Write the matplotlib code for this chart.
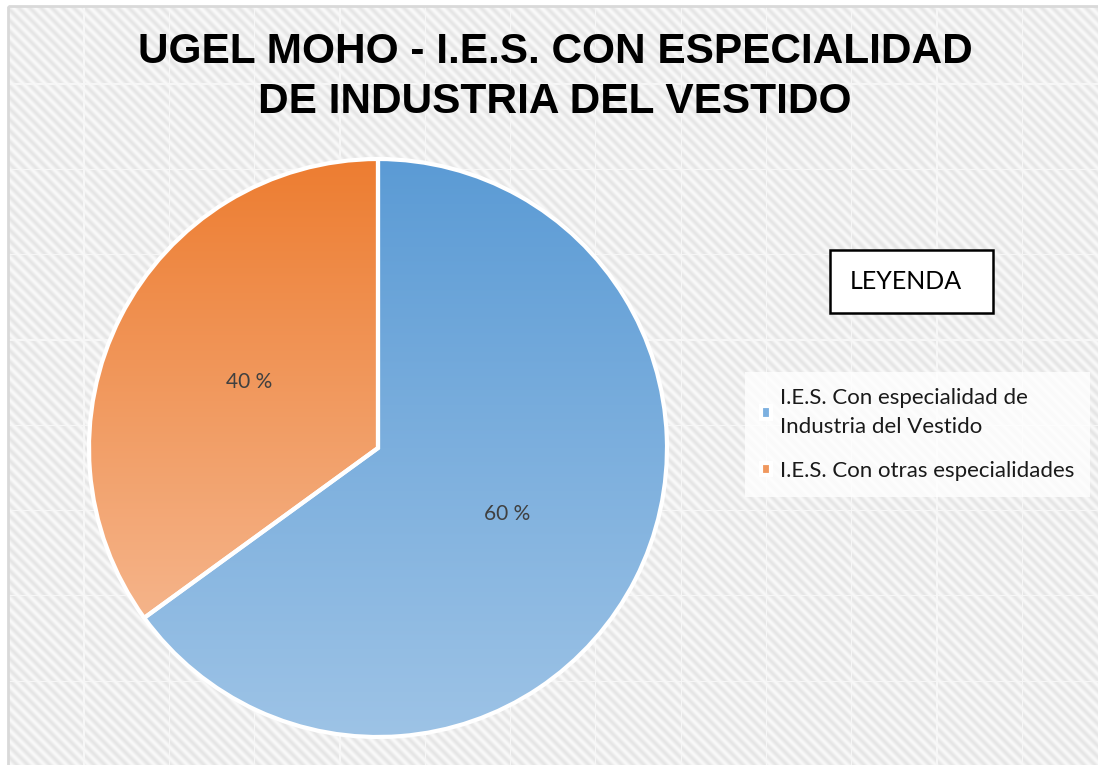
import matplotlib.pyplot as plt
import numpy as np
from matplotlib.colors import to_rgb
from matplotlib.patches import Rectangle

# data
categories = ['I.E.S. Con especialidad de\nIndustria del Vestido',
              'I.E.S. Con otras especialidades']
values = [65, 35]
pct_labels = ['60 %', '40 %']
title = 'UGEL MOHO - I.E.S. CON ESPECIALIDAD\nDE INDUSTRIA DEL VESTIDO'

top_colors = ['#5b9bd5', '#ed7d31']
bottom_colors = ['#9dc3e6', '#f5b48a']
mid_colors = ['#7cb0e0', '#f0985e']

W, H = 1098, 765
fig = plt.figure(figsize=(W / 100, H / 100), dpi=100)

# background: diagonal stripe texture inside a light frame
bg = fig.add_axes([0, 0, 1, 1])
yy, xx = np.mgrid[0:H, 0:W]
v = 0.5 + 0.5 * np.cos(2 * np.pi * (xx - yy) / 11.0)
tex = 0.975 - 0.075 * v
seam = (((xx - 83) % 85.3) < 1.2) | (((yy - 83) % 85.3) < 1.2)
tex[seam] = np.maximum(tex[seam], 0.965)
tex[(xx < 8) | (yy < 6)] = 1.0
bg.imshow(np.dstack([tex] * 3), extent=[0, W, H, 0], aspect='auto', interpolation='nearest')
bg.add_patch(Rectangle((8, 6), W, H, fill=False, edgecolor='#d9d9d9', lw=2))
bg.set_xlim(0, W)
bg.set_ylim(H, 0)
bg.axis('off')

# title
fig.text(555 / W, 1 - 77 / H, title, ha='center', va='center', fontsize=30.5,
         fontweight='bold', family='Liberation Sans', linespacing=1.35)

# pie
cx, cy, r = 378, 448, 289
ax = fig.add_axes([(cx - r) / W, (H - cy - r) / H, 2 * r / W, 2 * r / H])
lab_iter = iter(pct_labels)
wedges, texts, autotexts = ax.pie(values, colors=mid_colors, startangle=90, counterclock=False,
                                  autopct=lambda p: next(lab_iter), pctdistance=0.5,
                                  wedgeprops=dict(edgecolor='white', linewidth=3))
for t in autotexts:
    t.set_fontsize(15)
    t.set_color('#404040')
    t.set_family('Lato')
    t.set_zorder(6)

leg = fig.legend(wedges, categories, loc='upper left', bbox_to_anchor=(745 / W, 1 - 372 / H),
                 borderaxespad=0, frameon=True, facecolor='white', framealpha=0.8,
                 edgecolor='none', fancybox=False, handlelength=0.45, handleheight=0.5,
                 handletextpad=0.4, labelspacing=1.07, borderpad=0.72,
                 prop=dict(family='Lato', size=16))
for t in leg.get_texts():
    t.set_color('#1a1a1a')
    t.set_linespacing(1.57)

# vertical gradient fill per slice
for w, ct, cb in zip(wedges, top_colors, bottom_colors):
    bb = w.get_path().get_extents()
    f = np.linspace(0, 1, 256)[:, None, None]
    grad = (1 - f) * np.array(to_rgb(ct)) + f * np.array(to_rgb(cb))
    im = ax.imshow(grad, extent=[bb.x0, bb.x1, bb.y0, bb.y1], origin='upper',
                   aspect='auto', zorder=2)
    im.set_clip_path(w)
    w.set_facecolor('none')
    w.set_zorder(3)
ax.set_xlim(-1.0, 1.0)
ax.set_ylim(-1.0, 1.0)
ax.axis('off')

# "LEYENDA" box
bg.add_patch(Rectangle((830, 250), 163, 63, facecolor='white', edgecolor='black', lw=1.8))
bg.text(906, 281, 'LEYENDA', ha='center', va='center', fontsize=18, family='Lato', color='black')

fig.savefig('out.png', dpi=100)
